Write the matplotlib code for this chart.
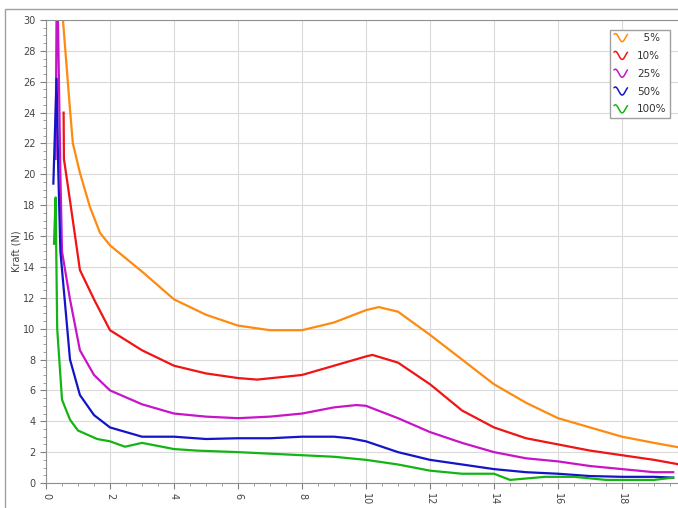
import numpy as np
import matplotlib
matplotlib.use("Agg")
import matplotlib.pyplot as plt
from matplotlib.legend_handler import HandlerBase
from matplotlib.lines import Line2D
from matplotlib.patches import Rectangle

# values (x in units of the axis, y = Kraft in N)
x_5 = [0.53, 0.75, 0.84, 1.06, 1.37, 1.69, 2.0, 3.0, 4.0, 5.0, 6.0, 7.0, 8.0, 9.0,
       10.0, 10.4, 11.0, 12.0, 13.0, 14.0, 15.0, 16.0, 17.0, 18.0, 19.0, 19.8]
y_5 = [30.0, 24.2, 22.0, 20.1, 17.9, 16.2, 15.4, 13.7, 11.9, 10.9, 10.2, 9.9, 9.9, 10.4,
       11.2, 11.4, 11.1, 9.6, 8.0, 6.4, 5.2, 4.2, 3.6, 3.0, 2.6, 2.3]

x_10 = [0.55, 0.56, 0.75, 1.06, 1.5, 2.0, 3.0, 4.0, 5.0, 6.0, 6.6, 8.0, 9.0, 10.0,
        10.2, 11.0, 12.0, 13.0, 14.0, 15.0, 16.0, 17.0, 18.0, 19.0, 19.8]
y_10 = [24.0, 21.0, 18.3, 13.8, 11.9, 9.9, 8.6, 7.6, 7.1, 6.8, 6.7, 7.0, 7.6, 8.2,
        8.3, 7.8, 6.4, 4.7, 3.6, 2.9, 2.5, 2.1, 1.8, 1.5, 1.2]

x_25 = [0.3, 0.33, 0.37, 0.45, 0.5, 0.75, 1.06, 1.5, 2.0, 3.0, 4.0, 5.0, 6.0, 7.0, 8.0,
        9.0, 9.7, 10.0, 11.0, 12.0, 13.0, 14.0, 15.0, 16.0, 17.0, 18.0, 19.0, 19.6]
y_25 = [21.0, 30.5, 30.5, 20.0, 15.0, 11.9, 8.6, 7.0, 6.0, 5.1, 4.5, 4.3, 4.2, 4.3, 4.5,
        4.9, 5.05, 5.0, 4.2, 3.3, 2.6, 2.0, 1.6, 1.4, 1.1, 0.9, 0.7, 0.7]

x_50 = [0.23, 0.33, 0.38, 0.45, 0.75, 1.06, 1.5, 2.0, 3.0, 4.0, 5.0, 6.0, 7.0, 8.0, 9.0,
        9.5, 10.0, 11.0, 12.0, 13.0, 14.0, 15.0, 16.0, 17.0, 18.0, 19.0, 19.6]
y_50 = [19.4, 26.2, 20.5, 15.0, 8.0, 5.7, 4.4, 3.6, 3.0, 3.0, 2.85, 2.9, 2.9, 3.0, 3.0,
        2.9, 2.7, 2.0, 1.5, 1.2, 0.9, 0.7, 0.6, 0.45, 0.4, 0.4, 0.35]

x_100 = [0.25, 0.3, 0.35, 0.5, 0.75, 1.0, 1.6, 2.0, 2.47, 3.0, 4.0, 4.7, 6.0, 7.0, 8.0,
         9.0, 10.0, 11.0, 12.0, 13.0, 14.0, 14.5, 15.6, 16.5, 17.5, 19.0, 19.6]
y_100 = [15.5, 18.5, 10.0, 5.4, 4.1, 3.4, 2.85, 2.7, 2.35, 2.6, 2.2, 2.1, 2.0, 1.9, 1.8,
         1.7, 1.5, 1.2, 0.8, 0.6, 0.6, 0.2, 0.4, 0.4, 0.2, 0.2, 0.35]

series = [
    ("  5%", x_5, y_5, "#ff8a10"),
    ("10%", x_10, y_10, "#f01414"),
    ("25%", x_25, y_25, "#c814c8"),
    ("50%", x_50, y_50, "#1414c8"),
    ("100%", x_100, y_100, "#14b414"),
]


class WaveHandler(HandlerBase):
    # little wavy line like the legend icons in the original
    def create_artists(self, legend, orig_handle, xdescent, ydescent,
                       width, height, fontsize, trans):
        t = np.linspace(0, 1, 40)
        xs = -xdescent + t * width
        ys = -ydescent + height / 2 + 0.55 * height * np.sin(2 * np.pi * (t + 0.15))
        ln = Line2D(xs, ys, color=orig_handle.get_color(), lw=1.1,
                    solid_capstyle="round")
        ln.set_transform(trans)
        return [ln]


fig = plt.figure(figsize=(6.78, 5.08), dpi=100)
fig.patches.append(Rectangle((5 / 678, -0.1), 1.2, (508 - 9) / 508 + 0.1,
                             transform=fig.transFigure, fill=False,
                             edgecolor="#a0a0a0", lw=1.0))

ax = fig.add_axes([46 / 678, 25 / 508, 640 / 678, 463 / 508])

handles = []
for label, xs, ys, col in series:
    h, = ax.plot(xs, ys, color=col, lw=1.6, label=label)
    handles.append(h)

ax.set_xlim(0, 20)
ax.set_ylim(0, 30)
ax.set_xticks(np.arange(0, 21, 2))
ax.set_yticks(np.arange(0, 31, 2))
ax.set_xticks(np.arange(0, 20.01, 0.5), minor=True)
ax.set_yticks(np.arange(0, 30.01, 0.5), minor=True)
ax.grid(True, which="major", color="#dadada", lw=0.8)
ax.set_axisbelow(True)
ax.tick_params(axis="both", which="major", labelsize=7, colors="#808080",
               labelcolor="#444444", length=4, direction="out")
ax.tick_params(axis="both", which="minor", colors="#909090", length=2)
ax.tick_params(axis="x", labelrotation=-90)
for s in ax.spines.values():
    s.set_color("#909090")

ax.set_ylabel("Kraft (N)", fontsize=7, color="#444444", labelpad=1)

fig.legend(handles, [s[0] for s in series], handler_map={Line2D: WaveHandler()},
           loc="upper right", bbox_to_anchor=(0.996, 0.952), fontsize=7.5,
           frameon=True, fancybox=False, edgecolor="#a0a0a0", framealpha=1,
           handlelength=1.3, handletextpad=0.9, labelspacing=0.75,
           borderpad=0.35, labelcolor="#333333")

fig.savefig("out.png", dpi=100)
